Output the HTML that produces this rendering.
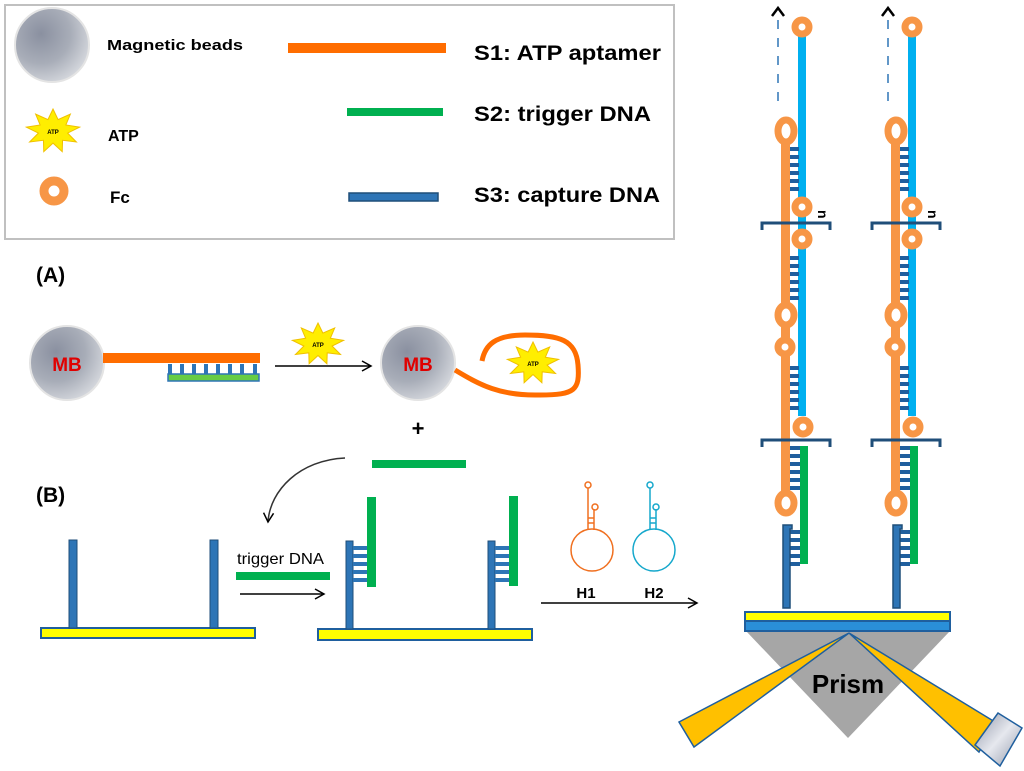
<!DOCTYPE html>
<html><head><meta charset="utf-8"><style>
html,body{margin:0;padding:0;background:#fff;}
svg{display:block;font-family:"Liberation Sans",sans-serif;}
.b{font-weight:bold;}
</style></head><body>
<svg width="1024" height="771" viewBox="0 0 1024 771" xmlns="http://www.w3.org/2000/svg">
<defs>
<radialGradient id="mb" cx="0.35" cy="0.35" r="0.8">
<stop offset="0" stop-color="#8a90a0"/><stop offset="0.5" stop-color="#a8adb8"/><stop offset="1" stop-color="#e2e4e8"/>
</radialGradient>
<linearGradient id="cyl" x1="0" y1="0" x2="1" y2="1"><stop offset="0" stop-color="#8f96a8"/><stop offset="0.5" stop-color="#e6e8ee"/><stop offset="1" stop-color="#8f96a8"/></linearGradient>
<polygon id="star" points="0,-1 0.188,-0.517 0.643,-0.766 0.476,-0.275 0.985,-0.174 0.542,0.096 0.866,0.5 0.354,0.421 0.342,0.94 0,0.55 -0.342,0.94 -0.354,0.421 -0.866,0.5 -0.542,0.096 -0.985,-0.174 -0.476,-0.275 -0.643,-0.766 -0.188,-0.517" fill="#ffee00" stroke="#f0c000" stroke-width="1" vector-effect="non-scaling-stroke"/>
<marker id="ar" markerWidth="12" markerHeight="12" refX="10" refY="6" orient="auto" markerUnits="userSpaceOnUse"><path d="M1,1 L10,6 L1,11" fill="none" stroke="#000" stroke-width="1.5"/></marker>
<g id="col">
 <line x1="778" y1="20" x2="778" y2="108" stroke="#2e75b6" stroke-width="1.5" stroke-dasharray="9,9"/>
 <path d="M772,16 L778,8 L784,16" fill="none" stroke="#000" stroke-width="2.5"/>
 <rect x="798" y="30" width="8" height="386" fill="#00b0f0"/>
 <rect x="800" y="446" width="8" height="118" fill="#00b050"/>
 <rect x="781" y="140" width="9" height="362" fill="#f79646"/>
 <g fill="#1f5f9e">
  <rect x="790" y="147" width="9" height="4"/><rect x="790" y="155" width="9" height="4"/><rect x="790" y="163" width="9" height="4"/><rect x="790" y="171" width="9" height="4"/><rect x="790" y="179" width="9" height="4"/><rect x="790" y="187" width="9" height="4"/>
  <rect x="790" y="256" width="9" height="4"/><rect x="790" y="264" width="9" height="4"/><rect x="790" y="272" width="9" height="4"/><rect x="790" y="280" width="9" height="4"/><rect x="790" y="288" width="9" height="4"/><rect x="790" y="296" width="9" height="4"/>
  <rect x="790" y="366" width="9" height="4"/><rect x="790" y="374" width="9" height="4"/><rect x="790" y="382" width="9" height="4"/><rect x="790" y="390" width="9" height="4"/><rect x="790" y="398" width="9" height="4"/><rect x="790" y="406" width="9" height="4"/>
  <rect x="790" y="446" width="10" height="4"/><rect x="790" y="454" width="10" height="4"/><rect x="790" y="462" width="10" height="4"/><rect x="790" y="470" width="10" height="4"/><rect x="790" y="478" width="10" height="4"/><rect x="790" y="486" width="10" height="4"/>
  <rect x="790" y="530" width="10" height="4"/><rect x="790" y="538" width="10" height="4"/><rect x="790" y="546" width="10" height="4"/><rect x="790" y="554" width="10" height="4"/><rect x="790" y="562" width="10" height="4"/>
 </g>
 <path d="M783,608 V525 H792 V529 H790 V608 Z" fill="#2e75b6" stroke="#1f4e79" stroke-width="1.5"/>
 <g fill="none" stroke="#1f4e79" stroke-width="3">
  <path d="M762,230 V223 H830 V230"/><path d="M762,447 V440 H830 V447"/>
 </g>
 <g fill="#fff" stroke="#f79646" stroke-width="7">
  <circle cx="802" cy="27" r="7"/>
  <ellipse cx="786" cy="131" rx="8" ry="11"/>
  <circle cx="802" cy="207" r="7"/><circle cx="802" cy="239" r="7"/>
  <ellipse cx="786" cy="315" rx="8" ry="10"/><circle cx="785" cy="347" r="7"/>
  <circle cx="803" cy="427" r="7"/>
  <ellipse cx="786" cy="503" rx="8" ry="10"/>
 </g>
</g>
</defs>

<rect x="5" y="5" width="669" height="234" fill="#fff" stroke="#c0c0c0" stroke-width="2"/>
<circle cx="52" cy="45" r="37" fill="url(#mb)" stroke="#e4e4e4" stroke-width="2"/>
<text x="107" y="50" class="b" font-size="15" textLength="136" lengthAdjust="spacingAndGlyphs">Magnetic beads</text>
<rect x="288" y="43" width="158" height="10" fill="#ff6d00"/>
<text x="474" y="60" class="b" font-size="21" textLength="187" lengthAdjust="spacingAndGlyphs">S1: ATP aptamer</text>
<rect x="347" y="108" width="96" height="8" fill="#00b050"/>
<text x="474" y="121" class="b" font-size="21" textLength="177" lengthAdjust="spacingAndGlyphs">S2: trigger DNA</text>
<rect x="349" y="193" width="89" height="8" fill="#2e75b6" stroke="#1f4e79" stroke-width="1.5"/>
<text x="474" y="202" class="b" font-size="21" textLength="186" lengthAdjust="spacingAndGlyphs">S3: capture DNA</text>
<use href="#star" transform="translate(53,131) scale(27,22)"/>
<text x="53" y="134" class="b" font-size="6" text-anchor="middle">ATP</text>
<text x="108" y="141" class="b" font-size="16">ATP</text>
<circle cx="54" cy="191" r="10" fill="none" stroke="#f79646" stroke-width="9"/>
<text x="110" y="203" class="b" font-size="17">Fc</text>

<text x="36" y="282" class="b" font-size="21">(A)</text>
<circle cx="67" cy="363" r="37" fill="url(#mb)" stroke="#e4e4e4" stroke-width="2"/>
<text x="67" y="371" class="b" font-size="19" fill="#e00000" text-anchor="middle">MB</text>
<rect x="103" y="353" width="157" height="10" fill="#ff6d00"/>
<g fill="#2e75b6"><rect x="168" y="364" width="4" height="10"/><rect x="180" y="364" width="4" height="10"/><rect x="192" y="364" width="4" height="10"/><rect x="204" y="364" width="4" height="10"/><rect x="216" y="364" width="4" height="10"/><rect x="228" y="364" width="4" height="10"/><rect x="240" y="364" width="4" height="10"/><rect x="253" y="364" width="4" height="10"/></g>
<rect x="168" y="374" width="91" height="7" fill="#66cc44" stroke="#2e75b6" stroke-width="1.5"/>
<line x1="275" y1="366" x2="371" y2="366" stroke="#000" stroke-width="1.5" marker-end="url(#ar)"/>
<use href="#star" transform="translate(318,344) scale(26,21)"/>
<text x="318" y="347" class="b" font-size="6" text-anchor="middle">ATP</text>
<circle cx="418" cy="363" r="37" fill="url(#mb)" stroke="#e4e4e4" stroke-width="2"/>
<text x="418" y="371" class="b" font-size="19" fill="#e00000" text-anchor="middle">MB</text>
<path d="M455,370 C480,385 500,396 540,395 C575,395 580,390 578,365 C576,340 560,335 525,335 C495,335 485,345 482,361" fill="none" stroke="#ff6d00" stroke-width="5"/>
<use href="#star" transform="translate(533,363) scale(26,21)"/>
<text x="533" y="366" class="b" font-size="6" text-anchor="middle">ATP</text>
<text x="418" y="436" class="b" font-size="22" text-anchor="middle">+</text>
<rect x="372" y="460" width="94" height="8" fill="#00b050"/>
<path d="M345,458 C300,460 270,490 268,522" fill="none" stroke="#333" stroke-width="1.5" marker-end="url(#ar)"/>

<text x="36" y="502" class="b" font-size="21">(B)</text>
<rect x="41" y="628" width="214" height="10" fill="#ffff00" stroke="#1f5f9e" stroke-width="2"/>
<rect x="69" y="540" width="8" height="88" fill="#2e75b6" stroke="#1f4e79" stroke-width="1"/>
<rect x="210" y="540" width="8" height="88" fill="#2e75b6" stroke="#1f4e79" stroke-width="1"/>
<text x="237" y="564" font-size="16" textLength="87" lengthAdjust="spacingAndGlyphs">trigger DNA</text>
<rect x="236" y="572" width="94" height="8" fill="#00b050"/>
<line x1="240" y1="594" x2="324" y2="594" stroke="#000" stroke-width="1.5" marker-end="url(#ar)"/>
<rect x="318" y="629" width="214" height="11" fill="#ffff00" stroke="#1f5f9e" stroke-width="2"/>
<rect x="346" y="541" width="7" height="88" fill="#2e75b6" stroke="#1f4e79" stroke-width="1"/>
<rect x="367" y="497" width="9" height="90" fill="#00b050"/>
<g fill="#2e75b6"><rect x="353" y="546" width="14" height="4"/><rect x="353" y="554" width="14" height="4"/><rect x="353" y="562" width="14" height="4"/><rect x="353" y="570" width="14" height="4"/><rect x="353" y="578" width="14" height="4"/></g>
<rect x="488" y="541" width="7" height="88" fill="#2e75b6" stroke="#1f4e79" stroke-width="1"/>
<rect x="509" y="496" width="9" height="90" fill="#00b050"/>
<g fill="#2e75b6"><rect x="495" y="546" width="14" height="4"/><rect x="495" y="554" width="14" height="4"/><rect x="495" y="562" width="14" height="4"/><rect x="495" y="570" width="14" height="4"/><rect x="495" y="578" width="14" height="4"/></g>

<g fill="none" stroke="#f07020" stroke-width="1.5">
 <circle cx="592" cy="550" r="21"/><line x1="588" y1="488" x2="588" y2="529"/><line x1="594" y1="509" x2="594" y2="530"/>
 <circle cx="588" cy="485" r="3"/><circle cx="595" cy="507" r="3"/><line x1="588" y1="518" x2="594" y2="518"/><line x1="588" y1="523" x2="594" y2="523"/>
</g>
<g fill="none" stroke="#16a8cc" stroke-width="1.5">
 <circle cx="654" cy="550" r="21"/><line x1="650" y1="488" x2="650" y2="529"/><line x1="656" y1="509" x2="656" y2="530"/>
 <circle cx="650" cy="485" r="3"/><circle cx="656" cy="507" r="3"/><line x1="650" y1="518" x2="656" y2="518"/><line x1="650" y1="523" x2="656" y2="523"/>
</g>
<text x="586" y="598" class="b" font-size="15" text-anchor="middle">H1</text>
<text x="654" y="598" class="b" font-size="15" text-anchor="middle">H2</text>
<line x1="541" y1="603" x2="697" y2="603" stroke="#000" stroke-width="1.5" marker-end="url(#ar)"/>

<use href="#col"/>
<use href="#col" x="110"/>
<text transform="translate(818,210) rotate(90)" class="b" font-size="14">n</text>
<text transform="translate(928,210) rotate(90)" class="b" font-size="14">n</text>
<polygon points="746,631 950,631 848,738" fill="#a6a6a6"/>
<rect x="745" y="612" width="205" height="9" fill="#ffff00" stroke="#1f5f9e" stroke-width="2"/>
<rect x="745" y="621" width="205" height="10" fill="#2a8fd8" stroke="#1f5f9e" stroke-width="2"/>
<polygon points="849,633 679,722 694,747" fill="#ffc000" stroke="#1f5f9e" stroke-width="1.5"/>
<polygon points="849,633 995,722 979,752" fill="#ffc000" stroke="#1f5f9e" stroke-width="1.5"/>
<polygon points="975,745 998,713 1022,728 1000,766" fill="url(#cyl)" stroke="#1f5f9e" stroke-width="1.5"/>
<text x="848" y="693" class="b" font-size="26" text-anchor="middle">Prism</text>
</svg>
</body></html>
